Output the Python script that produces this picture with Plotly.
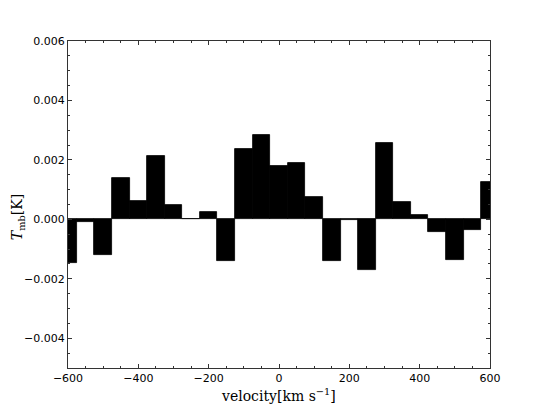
import plotly.graph_objects as go

# channel centres in km/s (50 km/s bins)
velocity = list(range(-600, 601, 50))
# main-beam temperature per channel [K]
t_mb = [
    -0.00148, -0.00010, -0.00121, 0.00140, 0.00063, 0.00214, 0.00049,
    0.00002, 0.000245, -0.00139, 0.00238, 0.00285, 0.00179, 0.00189,
    0.00074, -0.00141, -0.00003, -0.00171, 0.00258, 0.00058, 0.00016,
    -0.00044, -0.00138, -0.00035, 0.00125,
]

fig = go.Figure(go.Bar(
    x=velocity,
    y=t_mb,
    width=50,
    marker=dict(color="black", line=dict(color="black", width=0.8)),
    showlegend=False,
))

axis_common = dict(
    showline=True,
    linecolor="#333333",
    linewidth=1,
    mirror="allticks",
    ticks="inside",
    ticklen=4,
    tickcolor="#333333",
    showgrid=False,
    zeroline=False,
    automargin=False,
    tickfont=dict(family="DejaVu Sans", size=11, color="black"),
)

title_font = dict(family="DejaVu Serif", size=14, color="black")

# page body has an 8px default margin, so the figure is sized to fit inside it
fig.update_layout(
    width=537,
    height=401,
    margin=dict(l=60, r=55, t=33, b=41),
    plot_bgcolor="white",
    paper_bgcolor="white",
    bargap=0,
    xaxis=dict(
        range=[-600, 600],
        tickmode="linear",
        tick0=-600,
        dtick=200,
        minor=dict(dtick=50, ticks="inside", ticklen=2, tickcolor="#333333"),
        **axis_common,
    ),
    yaxis=dict(
        range=[-0.005, 0.006],
        tickmode="linear",
        tick0=0,
        dtick=0.002,
        tickformat=".3f",
        minor=dict(dtick=0.0005, ticks="inside", ticklen=2, tickcolor="#333333"),
        **axis_common,
    ),
    annotations=[
        dict(text="velocity[km s<sup>\u22121</sup>]", xref="paper", yref="paper",
             x=0.498, y=-0.083, xanchor="center", yanchor="middle",
             showarrow=False, font=title_font),
        dict(text="<i>T</i><sub>mb</sub>[K]", xref="paper", yref="paper",
             x=-0.118, y=0.462, xanchor="center", yanchor="middle",
             textangle=-90, showarrow=False, font=title_font),
    ],
)

fig.write_html("out.html")
